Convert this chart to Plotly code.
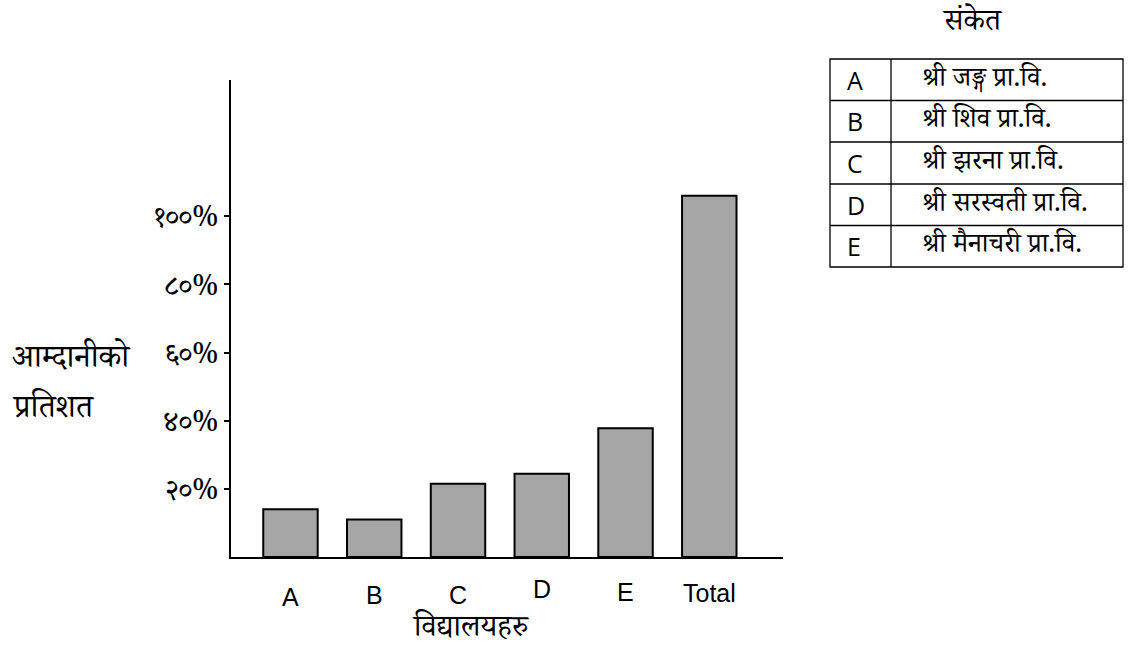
import plotly.graph_objects as go

categories = ["A", "B", "C", "D", "E", "Total"]
values = [14, 11, 21.5, 24.4, 37.8, 106]
tick_vals = [20, 40, 60, 80, 100]
tick_text = ["२०%", "४०%", "६०%", "८०%", "१००%"]
label_shift = [-40, -38, -38, -32, -35, -36]
legend_keys = ["A", "B", "C", "D", "E"]
legend_names = ["श्री जङ्ग प्रा.वि.", "श्री शिव प्रा.वि.", "श्री झरना प्रा.वि.",
                "श्री सरस्वती प्रा.वि.", "श्री मैनाचरी प्रा.वि."]
x_title = "विद्यालयहरु"
y_title_lines = ["आम्दानीको", "प्रतिशत"]
legend_title = "संकेत"

W, H = 1128, 655
L, R, T, B = 231, 783, 80, 557

def px(x):
    return (x - L) / (R - L)

def py(y):
    return (B - y) / (B - T)

deva = "Noto Serif Devanagari, Noto Sans Devanagari, Lohit Devanagari, serif"

fig = go.Figure(go.Bar(
    x=categories, y=values,
    marker=dict(color="#a6a6a6", line=dict(color="black", width=2)),
    width=0.65,
))

annotations = []
for c, s in zip(categories, label_shift):
    annotations.append(dict(x=c, y=0, xref="x", yref="y", text=c, showarrow=False,
                            xanchor="center", yanchor="middle", yshift=s,
                            font=dict(family="Liberation Sans Narrow, Arial Narrow, sans-serif",
                                      size=25, color="black")))
annotations.append(dict(x=px(470), y=py(631), xref="paper", yref="paper", text=x_title,
                        showarrow=False, xanchor="center", yanchor="middle",
                        font=dict(family=deva, size=30, color="black")))
for i, t in enumerate(y_title_lines):
    annotations.append(dict(x=px(10), y=py(362 + 50 * i), xref="paper", yref="paper", text=t,
                            showarrow=False, xanchor="left", yanchor="middle",
                            font=dict(family=deva, size=32, color="black")))
annotations.append(dict(x=px(972), y=py(25), xref="paper", yref="paper", text=legend_title,
                        showarrow=False, xanchor="center", yanchor="middle",
                        font=dict(family=deva, size=30, color="black")))

shapes = []
tx0, tx1, tdiv = 830, 1123, 891
rows = [59, 100.5, 142, 184, 225.5, 267]
shapes.append(dict(type="rect", xref="paper", yref="paper", x0=px(tx0), x1=px(tx1),
                   y0=py(rows[0]), y1=py(rows[-1]), line=dict(color="black", width=1.3)))
shapes.append(dict(type="line", xref="paper", yref="paper", x0=px(tdiv), x1=px(tdiv),
                   y0=py(rows[0]), y1=py(rows[-1]), line=dict(color="black", width=1.3)))
for r in rows[1:-1]:
    shapes.append(dict(type="line", xref="paper", yref="paper", x0=px(tx0), x1=px(tx1),
                       y0=py(r), y1=py(r), line=dict(color="black", width=1.3)))
for i, (k, n) in enumerate(zip(legend_keys, legend_names)):
    yc = (rows[i] + rows[i + 1]) / 2
    annotations.append(dict(x=px(845), y=py(yc), xref="paper", yref="paper", text=k,
                            showarrow=False, xanchor="left", yanchor="middle",
                            font=dict(family="Open Sans, Liberation Sans, sans-serif", size=25, color="black")))
    annotations.append(dict(x=px(920), y=py(yc + 2), xref="paper", yref="paper", text=n,
                            showarrow=False, xanchor="left", yanchor="middle",
                            font=dict(family=deva, size=27, color="black")))

fig.update_layout(
    width=W, height=H,
    margin=dict(l=L, r=W - R, t=T, b=H - B),
    paper_bgcolor="white", plot_bgcolor="white",
    showlegend=False,
    bargap=0.35,
    xaxis=dict(range=[-0.71, 5.88], showline=True, linecolor="black", linewidth=2,
               showticklabels=False, ticks="", showgrid=False, zeroline=False),
    yaxis=dict(range=[0, 140], showline=True, linecolor="black", linewidth=2,
               tickvals=tick_vals, ticktext=tick_text, ticks="outside", ticklen=5,
               tickcolor="black", tickwidth=2, showgrid=False, zeroline=False,
               tickfont=dict(family=deva, size=29, color="black")),
    annotations=annotations,
    shapes=shapes,
)

fig.write_html("out.html", config={"displayModeBar": False},
               post_script="document.body.style.margin='0';")
